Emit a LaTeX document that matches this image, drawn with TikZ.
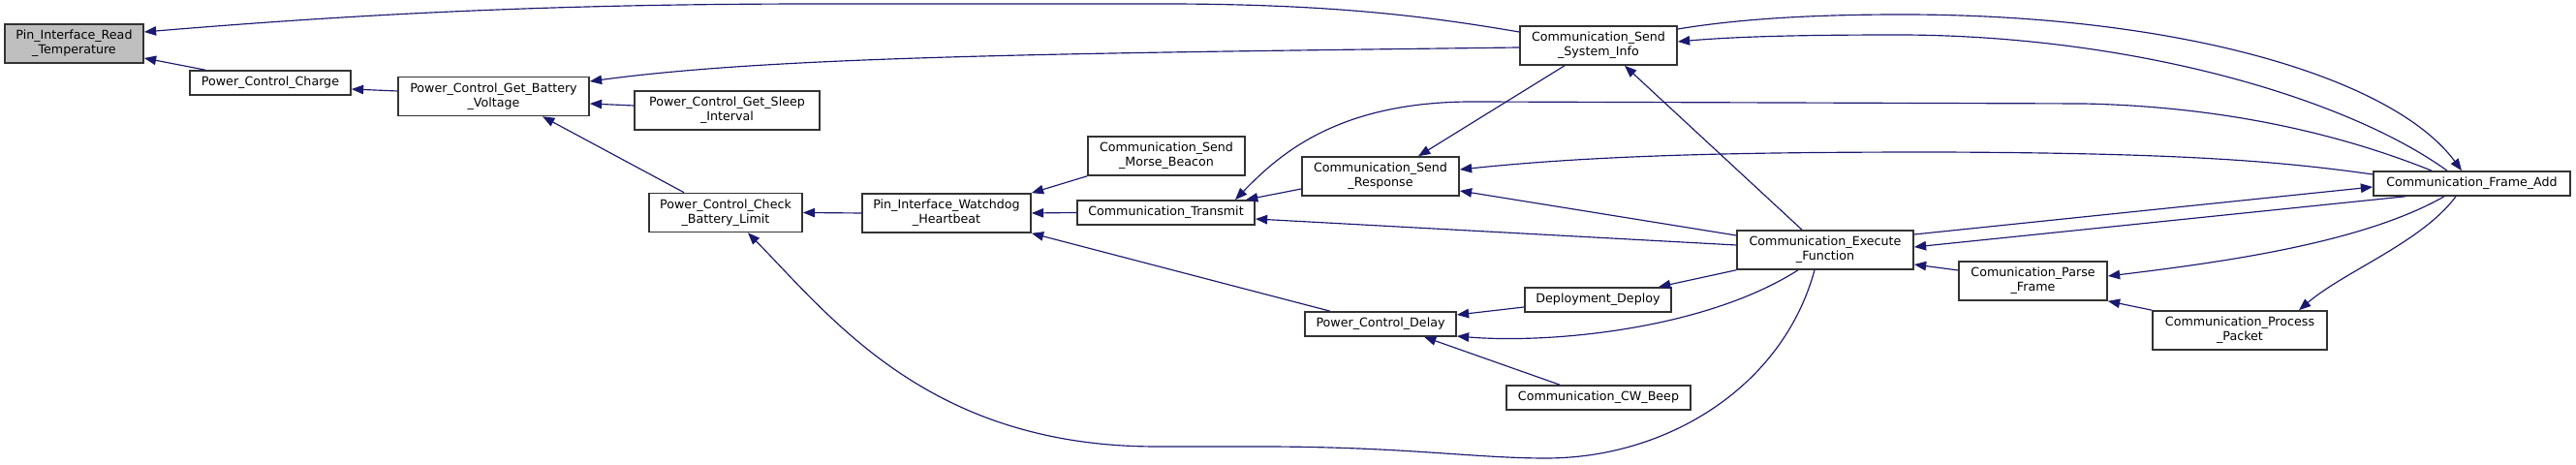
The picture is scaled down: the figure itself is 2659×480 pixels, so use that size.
\documentclass[tikz,border=0pt]{standalone}
\usepackage{fontspec}
\setmainfont{DejaVu Sans}
\usetikzlibrary{arrows.meta, positioning, calc}
\definecolor{EdgeNavy}{HTML}{191970}
\definecolor{RootGrey}{HTML}{BFBFBF}
\definecolor{BoxEdge}{HTML}{333333}

\tikzset{
  fn/.style={draw=BoxEdge, line width=0.45pt, fill=white, inner sep=0pt, align=center,
    font=\fontsize{3.6pt}{4.3pt}\selectfont, minimum height=0.25cm},
  fntwo/.style={fn, minimum height=0.4cm},
  call/.style={<-, >={Triangle[length=3.5pt,width=2.7pt]}, draw=EdgeNavy, line width=0.33pt},
}

\begin{document}
\begin{tikzpicture}[x=0.01cm, y=-0.01cm]
  \useasboundingbox (0,0) rectangle (2659,480);

  % Functions
  \node[fntwo, fill=RootGrey, minimum width=1.43cm] (readtemp) at (76.5,45) {Pin\_Interface\_Read\\\_Temperature};
  \node[fn, minimum width=1.66cm] (charge) at (279,85.5) {Power\_Control\_Charge};
  \node[fntwo, minimum width=1.97cm] (getbatt) at (509.5,99.5) {Power\_Control\_Get\_Battery\\\_Voltage};
  \node[fntwo, minimum width=1.91cm] (getsleep) at (750.5,114) {Power\_Control\_Get\_Sleep\\\_Interval};
  \node[fntwo, minimum width=1.58cm] (checklim) at (749,219.5) {Power\_Control\_Check\\\_Battery\_Limit};
  \node[fntwo, minimum width=1.74cm] (heartbeat) at (977,220) {Pin\_Interface\_Watchdog\\\_Heartbeat};
  \node[fntwo, minimum width=1.62cm] (morse) at (1204,161) {Communication\_Send\\\_Morse\_Beacon};
  \node[fn, minimum width=1.83cm] (transmit) at (1203.5,219.5) {Communication\_Transmit};
  \node[fntwo, minimum width=1.62cm] (sendresp) at (1425,182) {Communication\_Send\\\_Response};
  \node[fn, minimum width=1.56cm] (delay) at (1425,334.5) {Power\_Control\_Delay};
  \node[fn, minimum width=1.51cm] (deploy) at (1649.5,309.5) {Deployment\_Deploy};
  \node[fn, minimum width=1.90cm] (cwbeep) at (1650,410.5) {Communication\_CW\_Beep};
  \node[fntwo, minimum width=1.62cm] (sysinfo) at (1650,47) {Communication\_Send\\\_System\_Info};
  \node[fntwo, minimum width=1.82cm] (execfn) at (1884,258) {Communication\_Execute\\\_Function};
  \node[fntwo, minimum width=1.53cm] (parse) at (2098.5,290) {Comunication\_Parse\\\_Frame};
  \node[fntwo, minimum width=1.80cm] (process) at (2312,341) {Communication\_Process\\\_Packet};
  \node[fn, minimum width=2.03cm] (frameadd) at (2551.5,189.5) {Communication\_Frame\_Add};

  % Callers of Pin_Interface_Read_Temperature
  \draw[call] (readtemp.east |- 0,33) .. controls (400,12) and (600,4) .. (850,4) -- (1200,4)
    .. controls (1380,4) and (1480,18) .. (sysinfo.west |- 0,33);
  \draw[call] (readtemp.east |- 0,60) -- (charge.north -| 212,0);
  \draw[call] (charge.east |- 0,92) -- (getbatt.west |- 0,94);

  % Callers of Power_Control_Get_Battery_Voltage
  \draw[call] (getbatt.east |- 0,84) .. controls (800,58) and (1100,55) .. (sysinfo.west |- 0,49);
  \draw[call] (getbatt.east |- 0,107) -- (getsleep.west |- 0,109);
  \draw[call] (getbatt.south -| 560,0) -- (checklim.north -| 706,0);

  % Callers of Power_Control_Check_Battery_Limit
  \draw[call] (checklim.east) -- (heartbeat.west);
  \draw[call] (checklim.south -| 772,0) .. controls (860,330) and (960,461) .. (1194,461) -- (1300,461)
    .. controls (1450,461) and (1520,473) .. (1596,473)
    .. controls (1720,473) and (1840,400) .. (execfn.south -| 1873,0);

  % Callers of Pin_Interface_Watchdog_Heartbeat
  \draw[call] (heartbeat.north east) -- (morse.south west);
  \draw[call] (heartbeat.east) -- (transmit.west);
  \draw[call] (heartbeat.south east) -- (delay.north -| 1373,0);

  % Callers of Communication_Transmit
  \draw[call] (transmit.north -| 1286,0) -- (sendresp.west |- 0,195);
  \draw[call] (transmit.north -| 1275,0) .. controls (1320,160) and (1380,105) .. (1520,105) -- (2150,107)
    .. controls (2300,110) and (2420,140) .. (frameadd.north -| 2510,0);
  \draw[call] (transmit.east |- 0,226) -- (execfn.west |- 0,253);

  % Communication_Send_System_Info
  \draw[call] (sysinfo.east |- 0,43) .. controls (1800,37) and (1880,36) .. (1963,36)
    .. controls (2200,37) and (2420,100) .. (frameadd.north -| 2526,0);
  \draw[call] (frameadd.north -| 2541,0) .. controls (2470,80) and (2250,15) .. (1963,15)
    .. controls (1850,15) and (1780,22) .. (sysinfo.east |- 0,30);
  \draw[call] (sysinfo.south -| 1677,0) -- (execfn.north -| 1860,0);

  % Communication_Send_Response
  \draw[call] (sendresp.north -| 1464,0) -- (sysinfo.south -| 1615,0);
  \draw[call] (sendresp.east |- 0,175) .. controls (1650,160) and (1800,157) .. (2000,157)
    .. controls (2250,158) and (2350,166) .. (frameadd.west |- 0,180);
  \draw[call] (sendresp.east |- 0,197) -- (execfn.west |- 0,243);

  % Communication_Execute_Function
  \draw[call] (frameadd.west |- 0,193) -- (execfn.east |- 0,242);
  \draw[call] (execfn.east |- 0,255) -- (frameadd.south -| 2483,0);
  \draw[call] (execfn.east |- 0,273) -- (parse.west |- 0,279);

  % Comunication_Parse_Frame
  \draw[call] (parse.east |- 0,285) .. controls (2300,270) and (2440,250) .. (frameadd.south -| 2523,0);
  \draw[call] (parse.south east) -- (process.north west);
  \draw[call] (process.north -| 2373,0) .. controls (2420,280) and (2500,250) .. (frameadd.south -| 2535,0);

  % Power_Control_Delay
  \draw[call] (delay.east |- 0,325) -- (deploy.west |- 0,317);
  \draw[call] (deploy.north -| 1712,0) -- (execfn.south west);
  \draw[call] (delay.east |- 0,347) .. controls (1600,355) and (1760,340) .. (execfn.south -| 1856,0);
  \draw[call] (delay.south -| 1470,0) -- (cwbeep.north -| 1610,0);
\end{tikzpicture}
\end{document}
